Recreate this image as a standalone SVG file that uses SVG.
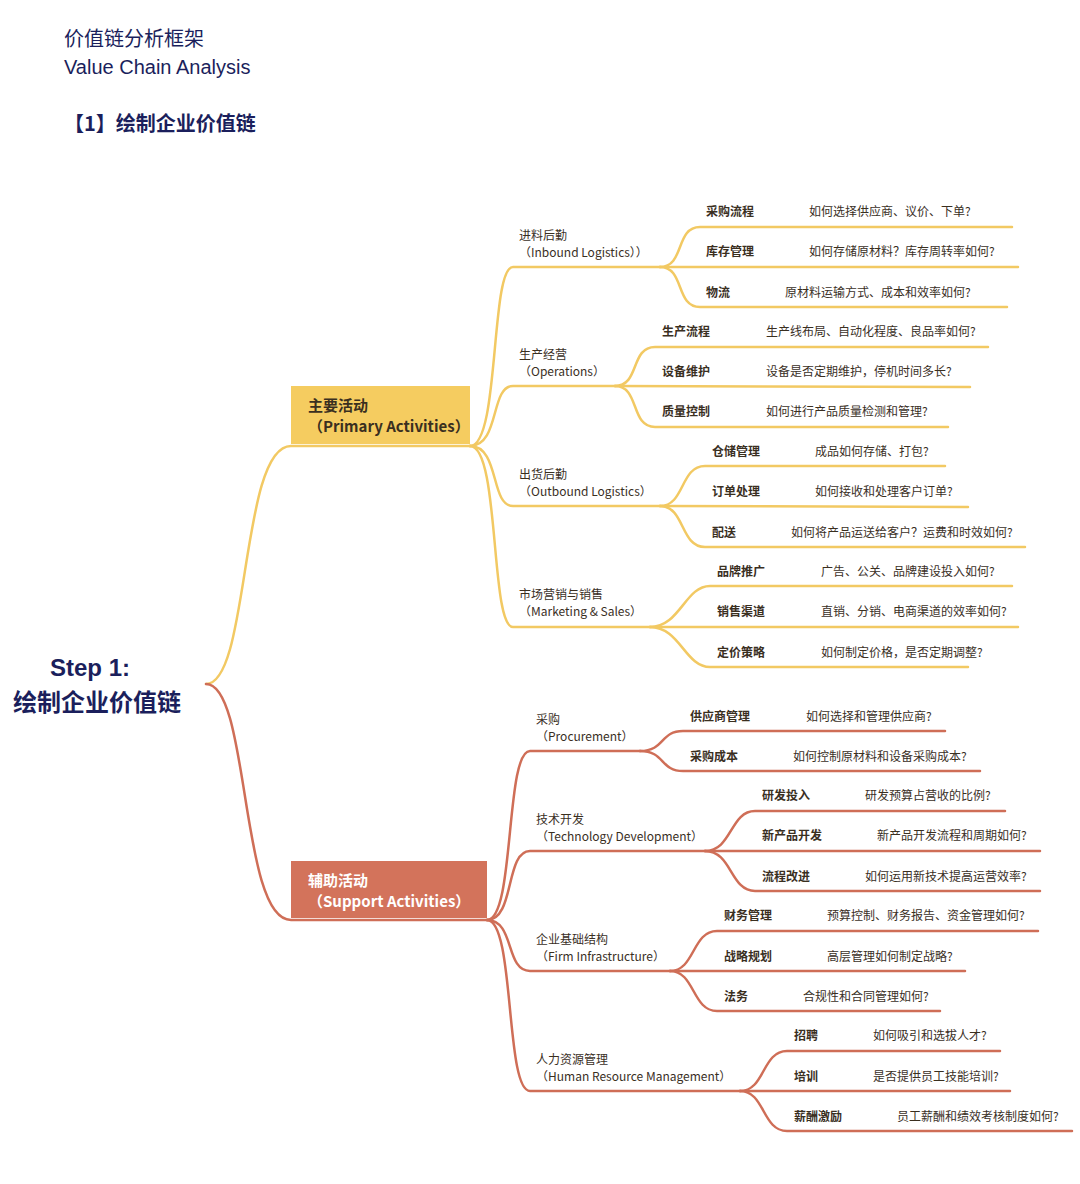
<svg xmlns="http://www.w3.org/2000/svg" width="1080" height="1184" viewBox="0 0 1080 1184">
<style>
text{font-family:"Noto Sans CJK SC","Noto Sans",sans-serif;fill:#3a2f1f}
.t{fill:#1b1f5c;font-size:20px}
.y{fill:none;stroke:#f2c963;stroke-width:2.5;stroke-linecap:round}
.r{fill:none;stroke:#cf6e57;stroke-width:2.5;stroke-linecap:round}
.l2{font-size:12px}
.k{font-size:12px;font-weight:bold}
.q{font-size:12px}
.b{font-size:15px;font-weight:bold}
</style>
<rect width="1080" height="1184" fill="#fff"/>
<g id="title">
<text class="t" x="64" y="46">价值链分析框架</text>
<text class="t" x="64" y="74" style="font-family:'Liberation Sans',sans-serif">Value Chain Analysis</text>
<text class="t" x="64" y="131" font-weight="bold">【1】绘制企业价值链</text>
</g>
<g id="connectors">
<path class="y" d="M206,684 C250,684 240,446 291,446 L470,446"/>
<path class="r" d="M206,684 C250,684 240,920 291,920 L487,920"/>
<path class="y" d="M470,446 C500,446 490,267 513,267 L660,267"/>
<path class="y" d="M470,446 C500,446 490,386 513,386 L615,386"/>
<path class="y" d="M470,446 C500,446 490,506 513,506 L660,506"/>
<path class="y" d="M470,446 C500,446 490,627 513,627 L650,627"/>
<path class="y" d="M660,267 C685,267 675,227 700,227 L1012,227"/>
<path class="y" d="M660,267 L1018,267"/>
<path class="y" d="M660,267 C685,267 675,307 700,307 L1007,307"/>
<path class="y" d="M615,386 C640,386 630,347 655,347 L988,347"/>
<path class="y" d="M615,386 L970,387"/>
<path class="y" d="M615,386 C640,386 630,427 655,427 L948,427"/>
<path class="y" d="M660,506 C685,506 680,466 705,466 L945,466"/>
<path class="y" d="M660,506 L968,507"/>
<path class="y" d="M660,506 C685,506 680,547 705,547 L1025,547"/>
<path class="y" d="M650,627 C680,627 685,586 710,586 L1012,586"/>
<path class="y" d="M650,627 L1018,627"/>
<path class="y" d="M650,627 C680,627 685,667 710,667 L968,667"/>
<path class="r" d="M487,920 C515,920 505,751 530,751 L640,751"/>
<path class="r" d="M487,920 C515,920 505,851 530,851 L705,851"/>
<path class="r" d="M487,920 C515,920 505,971 530,971 L670,971"/>
<path class="r" d="M487,920 C515,920 505,1091 530,1091 L740,1091"/>
<path class="r" d="M640,751 C665,751 660,731 683,731 L945,731"/>
<path class="r" d="M640,751 C665,751 660,771 683,771 L980,771"/>
<path class="r" d="M705,851 C732,851 730,811 755,811 L1005,811"/>
<path class="r" d="M705,851 L1040,851"/>
<path class="r" d="M705,851 C732,851 730,891 755,891 L1040,891"/>
<path class="r" d="M670,971 C695,971 692,931 717,931 L1038,931"/>
<path class="r" d="M670,971 L965,971"/>
<path class="r" d="M670,971 C695,971 692,1011 717,1011 L940,1011"/>
<path class="r" d="M740,1091 C765,1091 762,1051 787,1051 L1000,1051"/>
<path class="r" d="M740,1091 L1010,1091"/>
<path class="r" d="M740,1091 C765,1091 762,1131 787,1131 L1072,1131"/>
</g>
<g id="root">
<text x="90" y="676" text-anchor="middle" font-size="24" font-weight="bold" style="fill:#1b1f5c;font-family:'Liberation Sans',sans-serif">Step 1:</text>
<text x="97" y="711" text-anchor="middle" font-size="24" font-weight="bold" style="fill:#1b1f5c">绘制企业价值链</text>
</g>
<g id="primary">
<rect x="291" y="386" width="179" height="58" fill="#f5cc60"/>
<text class="b" x="308" y="411">主要活动</text>
<text class="b" x="308" y="432">（Primary Activities）</text>
</g>
<g id="support">
<rect x="291" y="861" width="196" height="57" fill="#d3735b"/>
<text class="b" x="308" y="886" style="fill:#fff">辅助活动</text>
<text class="b" x="308" y="907" style="fill:#fff">（Support Activities）</text>
</g>
<g id="l2">
<text class="l2" x="519" y="240">进料后勤</text><text class="l2" x="519" y="257">（Inbound Logistics））</text>
<text class="l2" x="519" y="359">生产经营</text><text class="l2" x="519" y="376">（Operations）</text>
<text class="l2" x="519" y="479">出货后勤</text><text class="l2" x="519" y="496">（Outbound Logistics）</text>
<text class="l2" x="519" y="599">市场营销与销售</text><text class="l2" x="519" y="616">（Marketing &amp; Sales）</text>
<text class="l2" x="536" y="724">采购</text><text class="l2" x="536" y="741">（Procurement）</text>
<text class="l2" x="536" y="824">技术开发</text><text class="l2" x="536" y="841">（Technology Development）</text>
<text class="l2" x="536" y="944">企业基础结构</text><text class="l2" x="536" y="961">（Firm Infrastructure）</text>
<text class="l2" x="536" y="1064">人力资源管理</text><text class="l2" x="536" y="1081">（Human Resource Management）</text>
</g>
<g id="l3">
<text class="k" x="706" y="216">采购流程</text><text class="q" x="809" y="216">如何选择供应商、议价、下单?</text>
<text class="k" x="706" y="256">库存管理</text><text class="q" x="809" y="256">如何存储原材料？库存周转率如何?</text>
<text class="k" x="706" y="297">物流</text><text class="q" x="785" y="297">原材料运输方式、成本和效率如何?</text>
<text class="k" x="662" y="336">生产流程</text><text class="q" x="766" y="336">生产线布局、自动化程度、良品率如何?</text>
<text class="k" x="662" y="376">设备维护</text><text class="q" x="766" y="376">设备是否定期维护，停机时间多长?</text>
<text class="k" x="662" y="416">质量控制</text><text class="q" x="766" y="416">如何进行产品质量检测和管理?</text>
<text class="k" x="712" y="456">仓储管理</text><text class="q" x="815" y="456">成品如何存储、打包?</text>
<text class="k" x="712" y="496">订单处理</text><text class="q" x="815" y="496">如何接收和处理客户订单?</text>
<text class="k" x="712" y="537">配送</text><text class="q" x="791" y="537">如何将产品运送给客户？运费和时效如何?</text>
<text class="k" x="717" y="576">品牌推广</text><text class="q" x="821" y="576">广告、公关、品牌建设投入如何?</text>
<text class="k" x="717" y="616">销售渠道</text><text class="q" x="821" y="616">直销、分销、电商渠道的效率如何?</text>
<text class="k" x="717" y="657">定价策略</text><text class="q" x="821" y="657">如何制定价格，是否定期调整?</text>
<text class="k" x="690" y="721">供应商管理</text><text class="q" x="806" y="721">如何选择和管理供应商?</text>
<text class="k" x="690" y="761">采购成本</text><text class="q" x="793" y="761">如何控制原材料和设备采购成本?</text>
<text class="k" x="762" y="800">研发投入</text><text class="q" x="865" y="800">研发预算占营收的比例?</text>
<text class="k" x="762" y="840">新产品开发</text><text class="q" x="877" y="840">新产品开发流程和周期如何?</text>
<text class="k" x="762" y="881">流程改进</text><text class="q" x="865" y="881">如何运用新技术提高运营效率?</text>
<text class="k" x="724" y="920">财务管理</text><text class="q" x="827" y="920">预算控制、财务报告、资金管理如何?</text>
<text class="k" x="724" y="961">战略规划</text><text class="q" x="827" y="961">高层管理如何制定战略?</text>
<text class="k" x="724" y="1001">法务</text><text class="q" x="803" y="1001">合规性和合同管理如何?</text>
<text class="k" x="794" y="1040">招聘</text><text class="q" x="873" y="1040">如何吸引和选拔人才?</text>
<text class="k" x="794" y="1081">培训</text><text class="q" x="873" y="1081">是否提供员工技能培训?</text>
<text class="k" x="794" y="1121">薪酬激励</text><text class="q" x="897" y="1121">员工薪酬和绩效考核制度如何?</text>
</g>
</svg>
